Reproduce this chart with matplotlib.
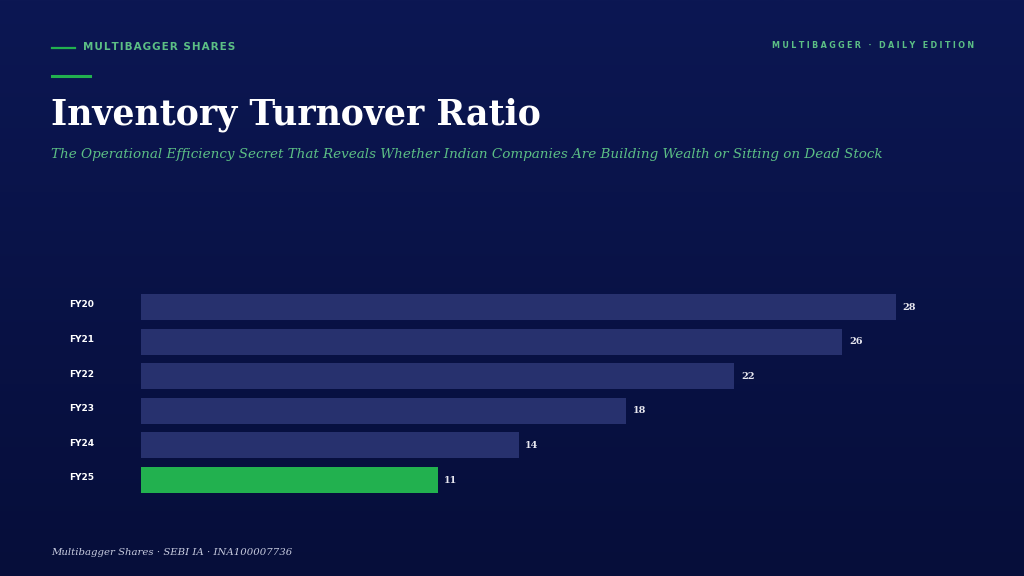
import numpy as np
import matplotlib
matplotlib.use("Agg")
import matplotlib.pyplot as plt
from matplotlib.transforms import ScaledTranslation

# data
years = ["FY20", "FY21", "FY22", "FY23", "FY24", "FY25"]
ratio = [28, 26, 22, 18, 14, 11]
highlight = "FY25"

BG_TOP = "#0c1753"
BG_BOT = "#060e3a"
BAR = "#27316e"
GREEN = "#22b14f"
GREEN_TXT = "#5cbf85"

fig = plt.figure(figsize=(10.24, 5.76), dpi=100)

# background gradient
bg = fig.add_axes([0, 0, 1, 1])
bg.set_axis_off()
top = np.array(matplotlib.colors.to_rgb(BG_TOP))
bot = np.array(matplotlib.colors.to_rgb(BG_BOT))
t = np.linspace(0, 1, 256)[:, None]
grad = (top * (1 - t) + bot * t)[:, None, :]
bg.imshow(grad, aspect="auto", extent=[0, 1, 0, 1])
bg.set_xlim(0, 1)
bg.set_ylim(0, 1)


def px(x, y):
    return x / 1024, 1 - y / 576


def spaced(s, gap="\u200a"):
    return gap.join(s)


# header
bg.plot([52 / 1024, 75 / 1024], [px(0, 48)[1]] * 2, color=GREEN, lw=1.6)
bg.plot([52 / 1024, 90 / 1024], [px(0, 76)[1]] * 2, color=GREEN, lw=2.2)
bg.text(*px(83, 47), spaced("MULTIBAGGER SHARES"), color=GREEN_TXT, fontsize=7.5,
        fontweight="bold", family="DejaVu Sans", va="center", ha="left")
bg.text(*px(974, 46), spaced("MULTIBAGGER · DAILY EDITION", "\u2009\u200a"), color=GREEN_TXT,
        fontsize=5.8, fontweight="bold", family="DejaVu Sans", va="center", ha="right")

bg.text(*px(51, 125), "Inventory Turnover Ratio", color="white", fontsize=25,
        fontweight="bold", family="DejaVu Serif", va="baseline", ha="left")
bg.text(*px(51, 158), "The Operational Efficiency Secret That Reveals Whether Indian Companies "
        "Are Building Wealth or Sitting on Dead Stock", color=GREEN_TXT, fontsize=9.7,
        style="italic", family="DejaVu Serif", va="baseline", ha="left")

bg.text(*px(51, 555), "Multibagger Shares · SEBI IA · INA100007736", color="#c8cce0",
        fontsize=7.3, style="italic", family="DejaVu Serif", va="baseline", ha="left")

# bars
pitch = 34.6
y_top = 307 - pitch / 2
y_bot = 480 + pitch / 2
x0, x1 = 141, 141 + 30 * (755 / 28)
ax = fig.add_axes([x0 / 1024, 1 - y_bot / 576, (x1 - x0) / 1024, (y_bot - y_top) / 576])
ax.patch.set_alpha(0)
pos = np.arange(len(years))
colors = [GREEN if y == highlight else BAR for y in years]
ax.barh(pos, ratio, height=0.75, color=colors)
ax.set_xlim(0, 30)
ax.set_ylim(len(years) - 0.5, -0.5)
for p, v in zip(pos, ratio):
    ax.text(v + 0.25, p, str(v), color="#e8e8f0", fontsize=7, fontweight="bold",
            family="DejaVu Serif", va="center", ha="left")
ax.set_yticks(pos)
ax.set_yticklabels(years, color="white", fontsize=6.5, fontweight="bold")
ax.tick_params(axis="y", length=0, pad=43)
shift = ScaledTranslation(0, 2.2 / 72, fig.dpi_scale_trans)
for lab in ax.get_yticklabels():
    lab.set_horizontalalignment("center")
    lab.set_transform(lab.get_transform() + shift)
ax.set_xticks([])
for s in ax.spines.values():
    s.set_visible(False)

fig.savefig("out.png", dpi=100, facecolor=BG_BOT)
